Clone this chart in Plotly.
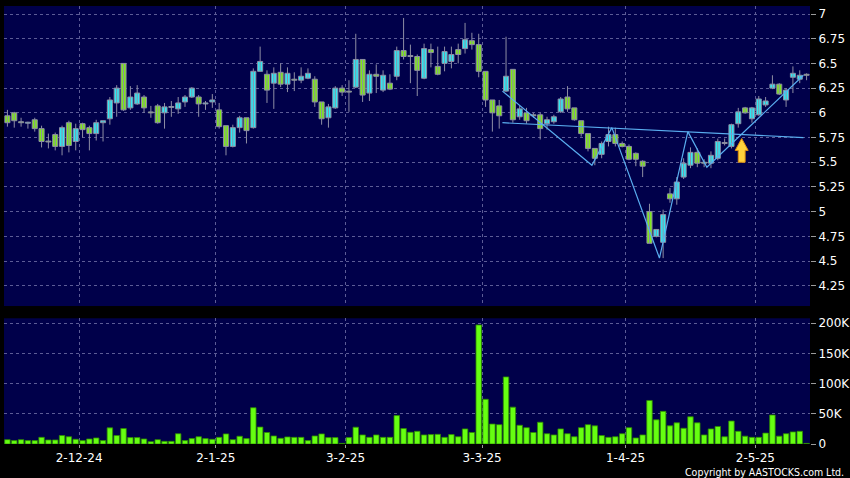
import plotly.graph_objects as go

# ---------------- data ----------------
trade_days = [
    ("2024-11", [18, 19, 20, 21, 22, 25, 26, 27, 28, 29]),
    ("2024-12", [2, 3, 4, 5, 6, 9, 10, 11, 12, 13, 16, 17, 18, 19, 20, 23, 24, 27, 30, 31]),
    ("2025-01", [2, 3, 6, 7, 8, 9, 10, 13, 14, 15, 16, 17, 20, 21, 22, 23, 24, 27, 28]),
    ("2025-02", [3, 4, 5, 6, 7, 10, 11, 12, 13, 14, 17, 18, 19, 20, 21, 24, 25, 26, 27, 28]),
    ("2025-03", [3, 4, 5, 6, 7, 10, 11, 12, 13, 14, 17, 18, 19, 20, 21, 24, 25, 26, 27, 28, 31]),
    ("2025-04", [1, 2, 3, 7, 8, 9, 10, 11, 14, 15, 16, 17, 22, 23, 24, 25, 28, 29, 30]),
    ("2025-05", [2, 6, 7, 8, 9, 12, 13, 14, 15]),
]
dates = [f"{m}-{d:02d}" for m, days in trade_days for d in days]

opens = [5.97, 6.00, 5.91, 5.895, 5.93, 5.84, 5.71, 5.78, 5.66, 5.90,
         5.71, 5.89, 5.85, 5.79, 5.90, 5.94, 6.10, 6.50, 6.05, 6.09,
         6.16, 6.005, 6.07, 6.00, 6.055, 6.04, 6.11, 6.16, 6.16, 6.09,
         6.11, 6.03, 5.87, 5.66, 5.85, 5.95, 5.85, 6.42, 6.39, 6.30,
         6.41, 6.29, 6.34, 6.33, 6.35, 6.34, 6.11, 5.95, 6.05, 6.25,
         6.215, 6.26, 6.54, 6.20, 6.39, 6.23, 6.30, 6.37, 6.63, 6.575,
         6.57, 6.35, 6.64, 6.47, 6.50, 6.52, 6.64, 6.65, 6.73, 6.69,
         6.42, 6.13, 6.07, 6.22, 6.44, 5.96, 6.00, 5.98, 5.98, 5.89,
         5.91, 6.01, 6.16, 6.05, 5.92, 5.79, 5.64, 5.58, 5.71, 5.78,
         5.69, 5.66, 5.59, 5.51, 5.00, 4.75, 4.69, 5.18, 5.13, 5.35,
         5.47, 5.60, 5.50, 5.49, 5.54, 5.70, 5.66, 5.89, 6.05, 5.94,
         5.98, 6.08, 6.25, 6.29, 6.13, 6.36, 6.34, 6.39]
highs = [6.03, 6.01, 5.95, 5.91, 5.95, 5.87, 5.79, 5.80, 5.87, 5.92,
         5.89, 5.90, 5.87, 5.93, 5.92, 6.16, 6.28, 6.50, 6.27, 6.28,
         6.18, 6.07, 6.09, 6.10, 6.12, 6.16, 6.18, 6.26, 6.18, 6.12,
         6.19, 6.10, 5.87, 5.88, 5.97, 5.95, 6.45, 6.67, 6.43, 6.46,
         6.50, 6.46, 6.41, 6.46, 6.45, 6.37, 6.11, 6.09, 6.27, 6.28,
         6.33, 6.80, 6.54, 6.43, 6.49, 6.43, 6.39, 6.67, 6.96, 6.69,
         6.59, 6.70, 6.70, 6.67, 6.67, 6.67, 6.70, 6.91, 6.81, 6.80,
         6.42, 6.13, 6.13, 6.77, 6.44, 6.07, 6.05, 6.00, 6.00, 5.96,
         5.98, 6.16, 6.27, 6.05, 5.92, 5.79, 5.64, 5.71, 5.86, 5.85,
         5.71, 5.68, 5.60, 5.52, 5.08, 4.82, 5.02, 5.24, 5.35, 5.54,
         5.65, 5.64, 5.53, 5.61, 5.74, 5.74, 5.89, 6.05, 6.06, 6.06,
         6.17, 6.16, 6.38, 6.30, 6.25, 6.47, 6.43, 6.40]
lows = [5.86, 5.85, 5.86, 5.84, 5.81, 5.65, 5.64, 5.62, 5.57, 5.60,
        5.62, 5.75, 5.62, 5.72, 5.71, 5.88, 5.96, 6.02, 6.03, 6.08,
        6.00, 5.95, 5.89, 5.84, 5.96, 5.99, 6.06, 6.15, 5.96, 6.03,
        6.05, 5.84, 5.57, 5.65, 5.80, 5.69, 5.84, 6.42, 6.10, 6.04,
        6.26, 6.21, 6.22, 6.30, 6.34, 6.06, 5.88, 5.85, 6.04, 6.17,
        6.01, 6.25, 6.11, 6.12, 6.20, 6.21, 6.23, 6.33, 6.54, 6.30,
        6.17, 6.34, 6.46, 6.38, 6.42, 6.45, 6.50, 6.60, 6.64, 6.36,
        6.06, 5.81, 5.84, 6.21, 5.90, 5.93, 5.89, 5.95, 5.73, 5.83,
        5.89, 6.00, 6.01, 5.92, 5.76, 5.61, 5.47, 5.54, 5.66, 5.66,
        5.65, 5.52, 5.46, 5.35, 4.68, 4.74, 4.53, 5.09, 5.07, 5.33,
        5.44, 5.45, 5.45, 5.44, 5.52, 5.67, 5.64, 5.85, 5.99, 5.90,
        5.97, 6.06, 6.24, 6.18, 6.06, 6.20, 6.30, 6.33]
closes = [5.90, 5.92, 5.90, 5.905, 5.84, 5.71, 5.705, 5.66, 5.85, 5.67,
          5.84, 5.83, 5.79, 5.90, 5.92, 6.13, 6.25, 6.03, 6.16, 6.20,
          6.05, 6.00, 5.90, 6.06, 6.06, 6.10, 6.16, 6.25, 6.09, 6.10,
          6.13, 5.86, 5.66, 5.85, 5.95, 5.82, 6.42, 6.52, 6.23, 6.40,
          6.29, 6.40, 6.33, 6.37, 6.40, 6.11, 5.94, 6.06, 6.25, 6.21,
          6.21, 6.54, 6.18, 6.39, 6.37, 6.38, 6.24, 6.63, 6.57, 6.57,
          6.43, 6.65, 6.61, 6.39, 6.62, 6.59, 6.59, 6.74, 6.69, 6.42,
          6.13, 6.00, 5.97, 6.37, 5.93, 6.04, 5.92, 5.97, 5.84, 5.93,
          5.96, 6.14, 6.04, 5.93, 5.79, 5.64, 5.54, 5.69, 5.78, 5.69,
          5.66, 5.53, 5.53, 5.46, 4.68, 4.82, 4.97, 5.13, 5.30, 5.49,
          5.60, 5.49, 5.49, 5.57, 5.71, 5.69, 5.88, 6.01, 6.00, 6.05,
          6.14, 6.12, 6.29, 6.19, 6.23, 6.40, 6.38, 6.38]
volumes_k = [7.2, 5.6, 7.2, 5.6, 5.6, 11, 6.7, 6.7, 14, 12,
             7.8, 5.6, 8.3, 10, 5.6, 26.7, 14, 25.6, 10.6, 10.6,
             8.3, 3.9, 7.2, 4.4, 4.4, 17, 5.6, 8.9, 12, 8.9,
             7.8, 11, 16.7, 7.2, 12.8, 8.9, 60, 28, 19, 13.3,
             9.4, 11.7, 11, 11, 5.6, 13.3, 16.7, 10.6, 10.6, 1,
             10.6, 27.8, 15, 11, 15, 11, 11, 47, 25.6, 19.4,
             21, 15, 15.6, 16, 11, 15.6, 12, 25, 19, 197,
             74, 33, 32, 111, 61, 31, 27, 19, 36, 17,
             15, 25, 17, 12, 27, 32, 30, 14, 11, 12,
             17, 27, 10, 15, 72, 40, 54, 30, 35, 26,
             45, 35, 15, 25, 29, 12, 38, 21, 13, 11,
             11, 18, 48, 13, 17, 20, 21, 1]
volumes = [v * 1000 for v in volumes_k]

tick_dates = ["2024-12-02", "2025-01-02", "2025-02-03", "2025-03-03", "2025-04-01", "2025-05-02"]
tick_labels = ["2-12-24", "2-1-25", "3-2-25", "3-3-25", "1-4-25", "2-5-25"]

price_ticks = [4.25, 4.5, 4.75, 5, 5.25, 5.5, 5.75, 6, 6.25, 6.5, 6.75, 7]
price_tick_labels = ["4.25", "4.5", "4.75", "5", "5.25", "5.5", "5.75", "6", "6.25", "6.5", "6.75", "7"]
vol_ticks = [0, 50000, 100000, 150000, 200000]
vol_tick_labels = ["0", "50K", "100K", "150K", "200K"]

# pattern overlay (bar index, price)
zigzag_x = [72.47, 85.57, 88.49, 95.46, 99.62, 102.4, 116.54]
zigzag_y = [6.22, 5.47, 5.85, 4.53, 5.81, 5.45, 6.38]
neck_x = [72.47, 116.54]
neck_y = [5.90, 5.75]
arrow_x, arrow_tip, arrow_base = 107.5, 5.74, 5.50

# ---------------- styling ----------------
BG = "#00004a"
GRID = "#5c5c96"
UP = "#2ee8f4"
DOWN = "#7fe81c"
EDGE = "#8e8ea4"
VOLC = "#66ff11"
FONT = "DejaVu Sans"
BODY_W = 0.74
MIN_BODY = 0.009

xs = list(range(len(dates)))
tickpos = [dates.index(d) + 0.5 for d in tick_dates]

fig = go.Figure()

# wicks
wx, wy = [], []
for i, h, l in zip(xs, highs, lows):
    wx += [i, i, None]
    wy += [l, h, None]
fig.add_trace(go.Scatter(x=wx, y=wy, mode="lines", line=dict(color=EDGE, width=1),
                         xaxis="x", yaxis="y", showlegend=False, hoverinfo="skip"))

# bodies
body_base = [min(o, c) for o, c in zip(opens, closes)]
body_h = [max(abs(c - o), MIN_BODY) for o, c in zip(opens, closes)]
body_col = [UP if c > o else DOWN for o, c in zip(opens, closes)]
fig.add_trace(go.Bar(x=xs, y=body_h, base=body_base, width=BODY_W,
                     marker=dict(color=body_col, line=dict(color=EDGE, width=1)),
                     xaxis="x", yaxis="y", showlegend=False, hoverinfo="skip"))

fig.add_trace(go.Scatter(x=neck_x, y=neck_y, mode="lines",
                         line=dict(color="#5aaef0", width=1.2),
                         xaxis="x", yaxis="y", showlegend=False, hoverinfo="skip"))
fig.add_trace(go.Scatter(x=zigzag_x, y=zigzag_y, mode="lines",
                         line=dict(color="#5aaef0", width=1.2),
                         xaxis="x", yaxis="y", showlegend=False, hoverinfo="skip"))

# yellow up arrow
hw, sw = 0.95, 0.5
head = arrow_tip - (arrow_tip - arrow_base) * 0.5
ax = [arrow_x, arrow_x + hw, arrow_x + sw, arrow_x + sw, arrow_x - sw, arrow_x - sw, arrow_x - hw, arrow_x]
ay = [arrow_tip, head, head, arrow_base, arrow_base, head, head, arrow_tip]
fig.add_trace(go.Scatter(x=ax, y=ay, mode="lines", fill="toself",
                         fillcolor="#ffd23c", line=dict(color="#e09010", width=1),
                         xaxis="x", yaxis="y", showlegend=False, hoverinfo="skip"))

fig.add_trace(go.Bar(x=xs, y=volumes, width=0.8,
                     marker=dict(color=VOLC, line=dict(color="#2f8a00", width=0.8)),
                     xaxis="x2", yaxis="y2", showlegend=False, hoverinfo="skip"))

xr = [-0.5, len(dates) - 0.5]
common_x = dict(range=xr, tickvals=tickpos, showgrid=True, gridcolor=GRID, griddash="3px,3px",
                gridwidth=1, zeroline=False, showline=False, fixedrange=True)

fig.update_layout(
    width=850, height=478,
    margin=dict(l=4, r=40, t=6, b=34, autoexpand=False),
    paper_bgcolor="black", plot_bgcolor=BG,
    font=dict(family=FONT, size=12, color="white"),
    barmode="overlay",
    xaxis=dict(domain=[0, 1], anchor="y", showticklabels=False, ticks="", **common_x),
    yaxis=dict(domain=[0.315, 1], side="right", range=[4.045, 7.081],
               tickvals=price_ticks, ticktext=price_tick_labels,
               ticks="outside", ticklen=5, tickcolor="#9a9a9a",
               showgrid=True, gridcolor=GRID, griddash="3px,3px", zeroline=False, fixedrange=True),
    xaxis2=dict(domain=[0, 1], anchor="y2", ticktext=tick_labels, ticks="outside",
                ticklen=3, tickcolor="#9a9a9a", **common_x),
    yaxis2=dict(domain=[0, 0.287], side="right", range=[0, 208000],
                tickvals=vol_ticks, ticktext=vol_tick_labels,
                ticks="outside", ticklen=5, tickcolor="#9a9a9a",
                showgrid=True, gridcolor=GRID, griddash="3px,3px", zeroline=False, fixedrange=True),
    annotations=[dict(text="Copyright by AASTOCKS.com Ltd.", xref="paper", yref="paper",
                      x=1.045, y=-0.065, xanchor="right", yanchor="middle", showarrow=False,
                      font=dict(family="DejaVu Sans Condensed, DejaVu Sans", size=10.5, color="white"))],
)

fig.write_html("out.html", config={"displayModeBar": False},
               post_script="document.body.style.margin='0';document.body.style.overflow='hidden';")
